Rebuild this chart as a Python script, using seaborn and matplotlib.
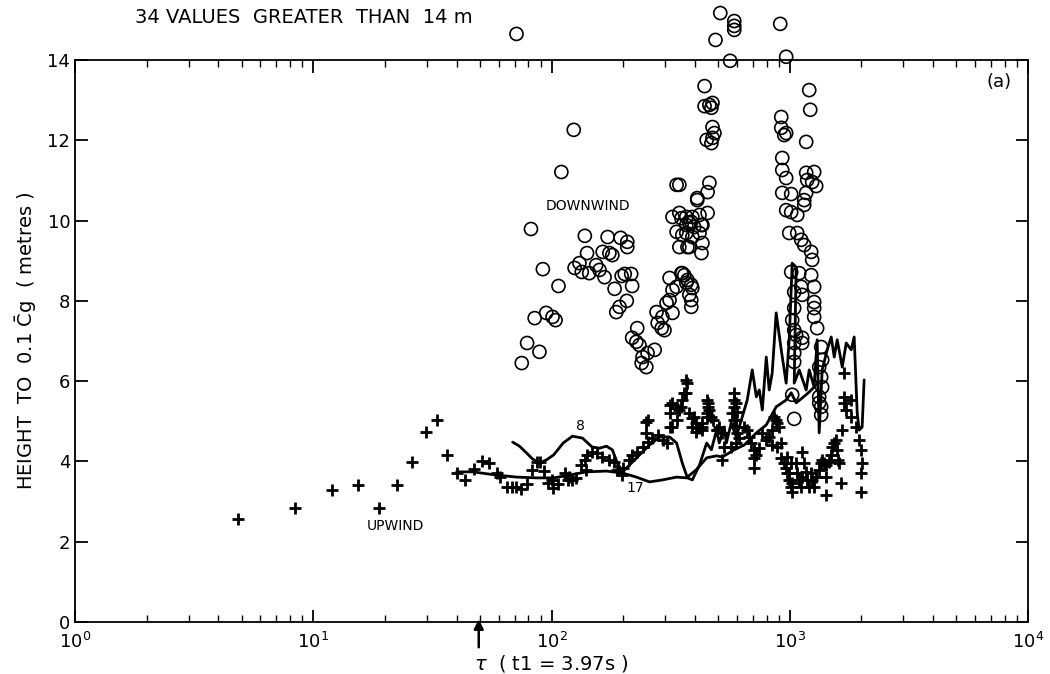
import matplotlib
matplotlib.use("Agg")
import matplotlib.pyplot as plt
import seaborn as sns
import pandas as pd
from matplotlib.ticker import LogLocator, FixedLocator, NullFormatter

# ---------------- data ----------------
down_tau = [71.3, 511, 585, 585, 585, 488, 912, 562, 966,
            124, 110, 335, 82, 138, 172, 195, 208, 208, 141, 164, 175, 180,
            131, 125, 134, 144, 154, 159, 167, 92, 107, 184, 197, 203, 216, 218,
            207, 193, 187, 85, 95, 101, 104, 79, 89, 75, 229, 218, 227, 234,
            241, 253, 271, 239, 250, 276, 292, 322, 279, 290, 298, 313, 322, 335,
            351, 361, 372, 386, 386, 386, 313, 304, 322, 351, 386, 335, 368, 390,
            344, 372, 368, 397, 430, 354, 418, 430, 379, 426, 354, 368, 390, 379,
            439, 439, 460, 474, 469, 474, 483, 448, 469, 474, 344, 460, 452, 409,
            409, 344, 368, 390, 418, 452, 379, 426,
            921, 921, 966, 948, 1207, 1219, 1172, 930, 930, 966, 930, 1014, 966,
            1014, 1075, 1172, 1266, 1184, 1242, 1291, 1172, 1150, 1150, 995, 1075,
            1117, 1150, 1230, 1242, 1014, 1096, 1230, 1266, 1117, 1128, 1044, 1266,
            1266, 1266, 1303, 1044, 1024, 1044, 1064, 1044, 1044, 1044, 1128, 1128,
            1355, 1368, 1329, 1355, 1368, 1329, 1355, 1355, 1024, 1044, 1329]
down_h = [14.65, 15.17, 14.97, 14.85, 14.75, 14.5, 14.9, 13.98, 14.08,
          12.26, 11.21, 10.89, 9.79, 9.62, 9.59, 9.57, 9.47, 9.34, 9.19, 9.22, 9.19, 9.14,
          8.94, 8.82, 8.72, 8.69, 8.89, 8.77, 8.59, 8.79, 8.37, 8.30, 8.62, 8.67, 8.67, 8.37,
          8.00, 7.85, 7.72, 7.57, 7.70, 7.60, 7.52, 6.95, 6.73, 6.45, 7.32, 7.08, 6.98, 6.90,
          6.60, 6.70, 6.78, 6.45, 6.35, 7.72, 7.60, 7.70, 7.45, 7.32, 7.27, 8.57, 8.27, 8.35,
          8.69, 8.64, 8.52, 8.40, 8.02, 7.85, 8.02, 7.95, 10.09, 10.06, 9.97, 9.72, 9.69, 9.59,
          9.34, 9.34, 9.89, 9.84, 9.89, 9.64, 9.69, 9.44, 9.34, 9.19, 8.69, 8.45, 8.32, 8.15,
          13.35, 12.85, 12.88, 12.93, 12.81, 12.33, 12.18, 12.01, 11.93, 12.06, 10.89, 10.94, 10.71, 10.56,
          10.51, 10.19, 10.09, 10.09, 10.14, 10.19, 9.94, 9.89,
          12.58, 12.31, 12.18, 12.13, 13.25, 12.76, 11.96, 11.56, 11.26, 11.06, 10.69, 10.66, 10.26,
          10.21, 10.14, 11.19, 11.21, 11.01, 10.96, 10.86, 10.69, 10.51, 10.39, 9.69, 9.69,
          9.52, 9.39, 9.22, 9.02, 8.72, 8.69, 8.64, 8.35, 8.35, 8.15, 8.22, 7.97,
          7.82, 7.60, 7.32, 7.82, 7.52, 7.27, 7.15, 6.95, 6.70, 6.48, 7.08, 6.95,
          6.85, 6.53, 6.35, 6.10, 5.85, 5.61, 5.36, 5.16, 5.66, 5.06, 5.46]

up_tau = [4.83, 8.36, 11.96, 15.4, 18.8, 22.4, 25.9, 29.6, 33.0, 36.3, 40.0, 43.2,
          47.1, 50.9, 54.4, 58.8, 60.5, 64.8, 68.0, 71.3, 74.8, 78.6, 82.5, 92.6, 86.6,
          89.1, 96.3, 101, 106, 100, 114, 119, 122.5, 127, 117, 133.6, 137.6, 141.5, 148,
          155.5, 163.6, 175, 183.6, 140, 189, 197, 199, 212, 218, 229, 241, 253, 265, 279,
          292.5, 304, 250, 253, 250, 313, 322, 335, 344, 313, 335, 354, 368, 372, 368,
          313, 322, 379, 390, 405, 418, 405, 430, 448, 452, 460, 474, 493, 506, 521, 531,
          521, 361, 351, 397, 390, 430, 469, 497, 585, 585, 585, 574, 585, 596, 602, 614,
          596, 568, 644, 663, 676, 689, 710, 710, 710, 724, 745, 767, 797, 820, 844, 877,
          903, 921, 885, 844, 860, 885, 921, 948, 966, 976, 995, 1014, 1024, 1064, 1075,
          1096, 1117, 1128, 1150, 1172, 1184, 1207, 1230, 1242, 1291, 1329, 1355, 1368,
          1422, 1465, 1493, 1508, 1537, 1567, 1582, 1598, 1422, 976, 1014, 995, 1024,
          1128, 1266, 1395, 1422, 1613, 1645, 1661, 1693, 1693, 1726, 1811, 1811, 1900,
          1956, 1994, 2013, 1994, 1994, 1693, 448, 452, 448, 430, 596, 602, 596]
up_h = [2.57, 2.84, 3.29, 3.41, 2.84, 3.41, 3.99, 4.73, 5.03, 4.16, 3.71, 3.54,
        3.81, 4.01, 3.96, 3.71, 3.61, 3.36, 3.36, 3.36, 3.31, 3.44, 3.79, 3.76, 3.99,
        3.99, 3.46, 3.34, 3.44, 3.54, 3.71, 3.61, 3.54, 3.59, 3.54, 3.91, 4.04, 4.16, 4.24,
        4.21, 4.11, 4.04, 3.99, 3.79, 3.79, 3.66, 3.84, 4.04, 4.16, 4.24, 4.36, 4.48, 4.58, 4.66,
        4.53, 4.46, 4.98, 5.03, 4.71, 5.41, 5.46, 5.33, 5.28, 5.21, 5.03, 5.53, 5.71, 5.95, 6.03,
        4.86, 4.86, 5.21, 5.08, 4.96, 4.83, 4.73, 4.96, 5.21, 5.46, 5.28, 5.03, 4.78, 4.86, 4.71, 4.36,
        4.04, 5.71, 5.36, 5.11, 4.86, 4.78, 5.11, 4.78, 5.71, 5.53, 5.36, 5.21, 5.03, 4.86, 4.71, 4.58,
        4.46, 4.36, 4.86, 4.78, 4.61, 4.46, 4.29, 4.09, 3.84, 4.16, 4.33, 4.71, 4.53, 4.61, 4.78, 5.03,
        4.86, 4.46, 4.36, 4.41, 5.11, 4.96, 4.09, 3.96, 3.84, 3.71, 3.54, 3.36, 3.24, 3.96, 3.71,
        3.54, 3.36, 4.24, 3.96, 3.74, 3.54, 3.36, 3.71, 3.54, 3.61, 3.79, 3.96, 4.04,
        3.91, 3.99, 4.16, 4.36, 4.46, 4.53, 4.29, 4.04, 3.16, 4.11, 3.96, 3.71, 3.46,
        3.61, 3.36, 3.96, 3.61, 3.96, 3.46, 4.78, 5.46, 5.61, 5.28, 5.53, 5.11, 4.86,
        4.53, 4.29, 3.96, 3.71, 3.24, 6.20, 5.53, 5.36, 5.11, 4.86, 5.46, 5.23, 5.03]

line8_tau = [68.7, 73.4, 78.6, 83.3, 89.1, 95.3, 102, 112, 122.5, 135, 148, 159, 170,
             180, 189, 199, 234, 258, 284, 313, 335, 354, 372, 390, 418, 448, 469, 493,
             506, 531, 542, 568, 596, 632, 663, 696, 724, 745, 767, 797, 820, 844, 877,
             921, 966, 995, 1024, 1064, 1044, 1096, 1172, 1207, 1266, 1303, 1329, 1368,
             1436, 1493, 1537, 1582, 1661, 1726, 1811, 1864, 1919, 1956, 2013, 2052]
line8_h = [4.48, 4.38, 4.21, 4.06, 3.96, 4.04, 4.16, 4.46, 4.63, 4.58, 4.36, 4.33, 4.38,
           4.29, 3.96, 3.74, 4.16, 4.41, 4.61, 4.61, 4.46, 3.96, 3.59, 3.54, 3.91, 4.46, 4.29, 4.78,
           4.46, 4.86, 4.46, 4.96, 4.61, 5.11, 5.53, 6.28, 5.61, 5.78, 5.28, 6.60, 5.78, 6.20, 7.70,
           6.78, 5.95, 7.03, 8.94, 8.84, 5.95, 6.28, 5.78, 6.28, 5.85, 7.03, 4.71, 6.28,
           6.78, 7.10, 6.60, 7.03, 6.35, 6.95, 6.78, 7.10, 5.21, 4.78, 4.86, 6.03]

line17_tau = [40.0, 46.7, 58.8, 71.3, 86.6, 102, 119, 140, 170, 199, 227, 258, 292.5,
              335, 368, 405, 448, 493, 521, 585, 644, 724, 797, 877, 966, 1014, 1064,
              1128, 1207, 1266]
line17_h = [3.74, 3.74, 3.66, 3.61, 3.59, 3.59, 3.66, 3.74, 3.76, 3.71, 3.61, 3.49, 3.54,
            3.61, 3.59, 3.79, 4.09, 4.14, 4.11, 4.29, 4.41, 4.71, 4.91, 5.36, 5.53, 5.71, 5.46,
            5.58, 5.73, 5.85]

y_ticks = [0, 2, 4, 6, 8, 10, 12, 14]
x_decades = [1, 10, 100, 1000, 10000]
arrow_tau = 49.5

# ---------------- plotting ----------------
sns.set_style("ticks")
plt.rcParams["font.family"] = ["DejaVu Sans"]
plt.rcParams["mathtext.fontset"] = "dejavusans"
for key in ["text.color", "axes.labelcolor", "xtick.color", "ytick.color",
            "axes.edgecolor"]:
    plt.rcParams[key] = "black"

fig = plt.figure(figsize=(10.5, 6.74), dpi=100)
ax = fig.add_axes([75 / 1050, 52 / 674, 953 / 1050, 562 / 674])

df_down = pd.DataFrame({"tau": down_tau, "h": down_h})
df_up = pd.DataFrame({"tau": up_tau, "h": up_h})
df8 = pd.DataFrame({"tau": line8_tau, "h": line8_h})
df17 = pd.DataFrame({"tau": line17_tau, "h": line17_h})

sns.lineplot(data=df8, x="tau", y="h", sort=False, estimator=None, color="black",
             lw=2.0, ax=ax)
sns.lineplot(data=df17, x="tau", y="h", sort=False, estimator=None, color="black",
             lw=2.0, ax=ax)
sns.scatterplot(data=df_up, x="tau", y="h", marker="+", color="black", s=70,
                linewidth=2.0, ax=ax, zorder=3)
sns.scatterplot(data=df_down, x="tau", y="h", marker="o", facecolor="none",
                edgecolor="black", s=88, linewidth=1.2, ax=ax, zorder=4,
                clip_on=False)

ax.set_xscale("log")
ax.set_xlim(1, 10000)
ax.set_ylim(0, 14)
ax.xaxis.set_major_locator(FixedLocator(x_decades))
ax.xaxis.set_minor_locator(LogLocator(base=10, subs=range(2, 10)))
ax.xaxis.set_minor_formatter(NullFormatter())
ax.set_yticks(y_ticks)
ax.set_yticklabels([str(v) for v in y_ticks])

for s in ax.spines.values():
    s.set_linewidth(1.3)
    s.set_visible(True)
    s.set_color("black")
ax.tick_params(which="both", direction="in", top=True, right=True, color="black",
               labelcolor="black", labelsize=13)
ax.tick_params(which="major", length=9, width=1.3)
ax.tick_params(which="minor", length=5, width=1.0)
ax.tick_params(axis="x", which="major", pad=7)

ax.set_xlabel(r"$\tau$  ( t1 = 3.97s )", fontsize=14)
ax.xaxis.set_label_coords(0.5, -0.056)
ax.set_ylabel(r"HEIGHT  TO  0.1 $\bar{\mathrm{C}}$g  ( metres )", fontsize=14, labelpad=6)

ax.text(0.063, 1.075, "34 VALUES  GREATER  THAN  14 m", transform=ax.transAxes,
        fontsize=14, ha="left", va="center")
ax.text(7550, 13.45, "(a)", fontsize=13, ha="center", va="center")
ax.text(142, 10.36, "DOWNWIND", fontsize=10, ha="center", va="center")
ax.text(22.2, 2.39, "UPWIND", fontsize=10, ha="center", va="center")
ax.text(132, 4.88, "8", fontsize=10, ha="center", va="center")
ax.text(224, 3.34, "17", fontsize=10, ha="center", va="center")

ax.annotate("", xy=(arrow_tau, 0.01), xycoords=("data", "axes fraction"),
            xytext=(arrow_tau, -0.05), textcoords=("data", "axes fraction"),
            arrowprops=dict(arrowstyle="-|>", lw=1.8, color="black",
                            mutation_scale=14), annotation_clip=False)

fig.savefig("out.png", dpi=100)
